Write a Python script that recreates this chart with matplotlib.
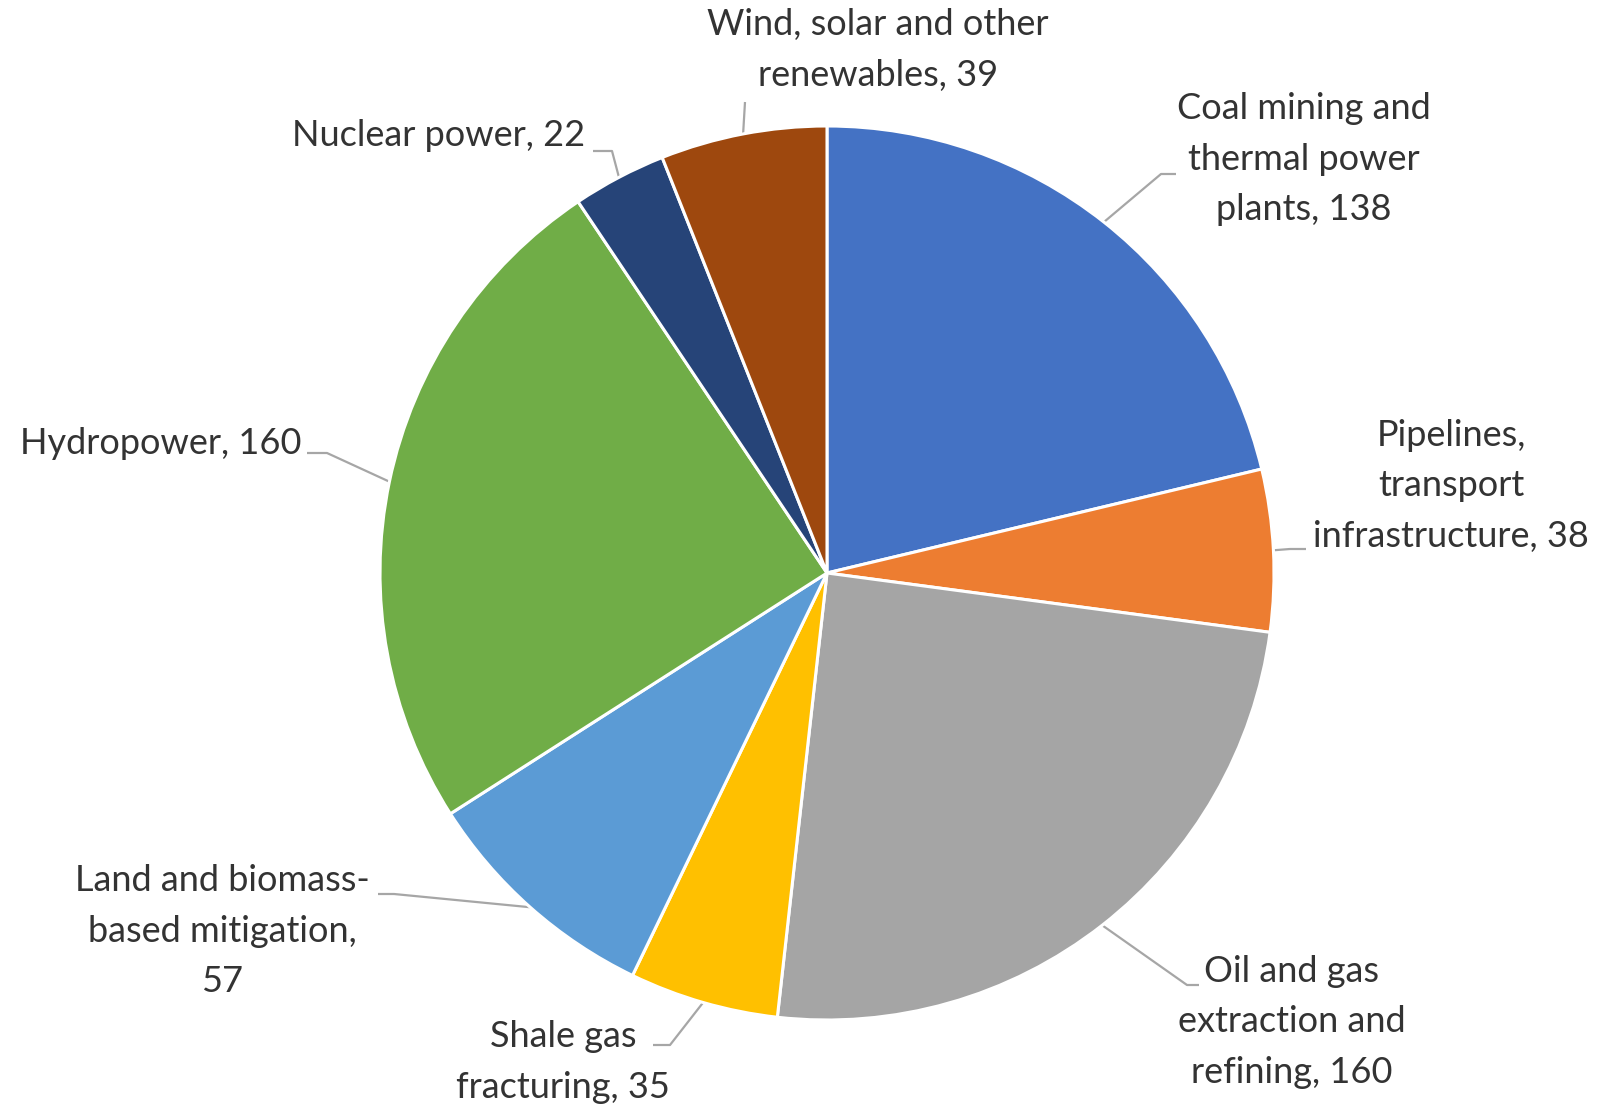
import numpy as np
import matplotlib
matplotlib.use("Agg")
import matplotlib.pyplot as plt

plt.rcParams['font.family'] = ['Lato', 'DejaVu Sans']

# data, clockwise from 12 o'clock
labels = [
    "Coal mining and\nthermal power\nplants",
    "Pipelines,\ntransport\ninfrastructure",
    "Oil and gas\nextraction and\nrefining",
    "Shale gas\nfracturing",
    "Land and biomass-\nbased mitigation,\n",
    "Hydropower",
    "Nuclear power",
    "Wind, solar and other\nrenewables",
]
values = [138, 38, 160, 35, 57, 160, 22, 39]
colors = ["#4472C4", "#ED7D31", "#A5A5A5", "#FFC000",
          "#5B9BD5", "#70AD47", "#264478", "#9E480E"]

W, H = 1604, 1110
fig = plt.figure(figsize=(W / 100, H / 100), dpi=100)
ax = fig.add_axes([0, 0, 1, 1])

cx, cy, r = 827, 573, 447

# pie drawn in an inverted-y axis: counterclock=True ends up clockwise on screen
wedges, _ = ax.pie(values, colors=colors, center=(cx, cy), radius=r,
                   startangle=-90, counterclock=True, frame=True,
                   wedgeprops=dict(edgecolor='white', linewidth=2.2))
ax.set_xlim(0, W)
ax.set_ylim(H, 0)
ax.set_aspect('equal')
ax.axis('off')

# label layout: text position, alignment, leader elbow and end points (pixels)
layout = [
    ((1304, 159), 'center', [(1161, 174), (1176, 174)]),
    ((1451, 486), 'center', [(1290, 549), (1306, 549)]),
    ((1292, 1022), 'center', [(1187, 985), (1199, 985)]),
    ((563, 1062), 'center', [(670, 1045), (653, 1045)]),
    ((222, 931), 'center', [(394, 894), (378, 894)]),
    ((302, 443), 'right', [(327, 453), (307, 453)]),
    ((585, 136), 'right', [(612, 151), (593, 151)]),
    ((878, 50), 'center', [(745, 102)]),
]

total = sum(values)
start = 0
for lab, val, (pos, ha, pts) in zip(labels, values, layout):
    mid = (start + val / 2) / total * 2 * np.pi
    start += val
    ax_pt = (cx + r * np.sin(mid), cy - r * np.cos(mid))
    xs = [ax_pt[0]] + [p[0] for p in pts]
    ys = [ax_pt[1]] + [p[1] for p in pts]
    ax.plot(xs, ys, color='#A6A6A6', lw=1.6, zorder=0, solid_capstyle='butt')
    if lab.endswith("\n"):
        txt = f"{lab}{val}"
    else:
        txt = f"{lab}, {val}"
    ax.text(pos[0], pos[1], txt, ha=ha, va='center', multialignment='center',
            fontsize=26, color='#333333', linespacing=1.64)

fig.savefig("out.png", dpi=100)
